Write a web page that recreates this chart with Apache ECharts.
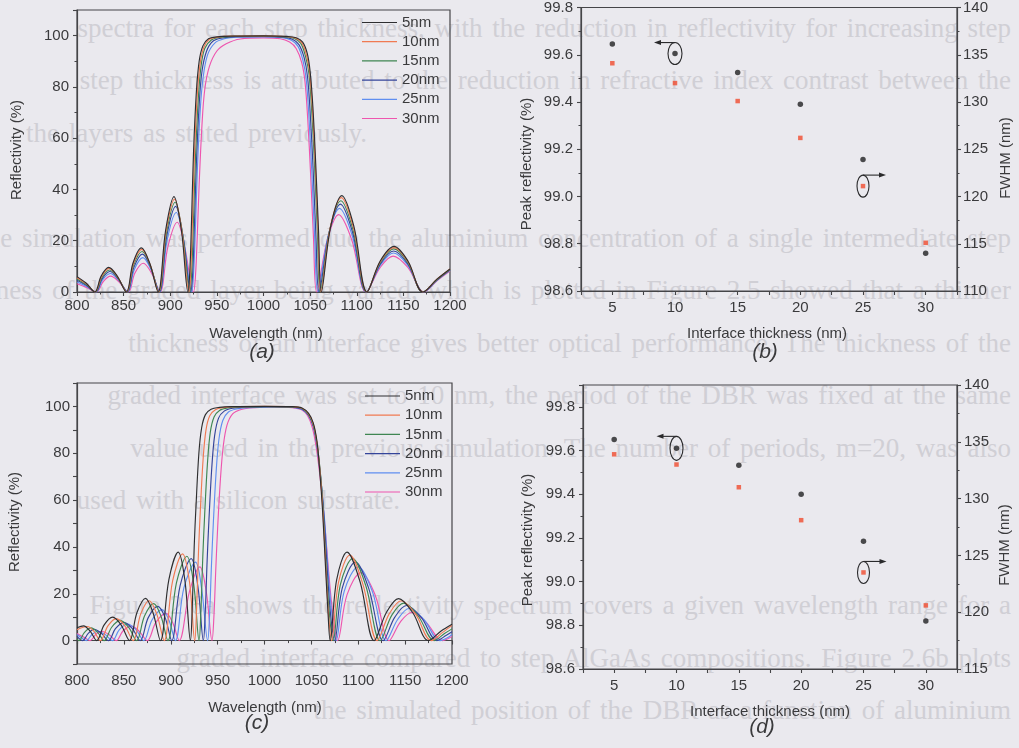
<!DOCTYPE html>
<html>
<head>
<meta charset="utf-8">
<script src="https://cdn.jsdelivr.net/npm/echarts@6/dist/echarts.min.js"></script>
<style>
  html, body { margin: 0; padding: 0; background: #eae9ee; }
  #page { position: absolute; left: 0; top: 0; width: 1019px; height: 748px; overflow: hidden; }
  .ln { position: absolute; font-family: "Liberation Serif", "Times New Roman", serif; font-size: 27px;
        line-height: 30px; color: #d0cfd5; white-space: nowrap; word-spacing: 3px; }
  .full { right: 8px; text-align: right; }
  #chart { position: absolute; left: 0; top: 0; width: 1019px; height: 748px; }
</style>
</head>
<body>
<div id="page"></div>
<div id="chart"></div>
<script>
// ---- thesis body text behind the figure ----
const pageLines = [
  { y: 28,  t: "spectra for each step thickness, with the reduction in reflectivity for increasing step" },
  { y: 80,  t: "step thickness is attributed to the reduction in refractive index contrast between the" },
  { y: 133, t: "the layers as stated previously.", right: 367 },
  { y: 238, t: "Secondly, the simulation was performed due the aluminium concentration of a single intermediate step" },
  { y: 290, t: "thickness of the graded layer being varied, which is plotted in Figure 2.5 showed that a thinner" },
  { y: 343, t: "thickness of an interface gives better optical performance. The thickness of the" },
  { y: 395, t: "graded interface was set to 10 nm, the period of the DBR was fixed at the same" },
  { y: 448, t: "value used in the previous simulation. The number of periods, m=20, was also" },
  { y: 500, t: "used with a silicon substrate.", right: 400 },
  { y: 605, t: "Figure 2.6a shows the reflectivity spectrum covers a given wavelength range for a" },
  { y: 658, t: "graded interface compared to step AlGaAs compositions. Figure 2.6b plots" },
  { y: 710, t: "the simulated position of the DBR as a function of aluminium" }
];
const page = document.getElementById('page');
pageLines.forEach(l => {
  const d = document.createElement('div');
  d.className = 'ln' + (l.right ? '' : ' full');
  d.style.top = (l.y - 15) + 'px';
  if (l.right) { d.style.right = (1019 - l.right) + 'px'; d.style.textAlign = 'right'; }
  d.textContent = l.t;
  page.appendChild(d);
});

// ---- data ----
const legendNames = ['5nm', '10nm', '15nm', '20nm', '25nm', '30nm'];
const lineColors = ['#2e2e30', '#f07a52', '#3f8652', '#34449a', '#5f8ef0', '#ee55ae'];

// (a) reflectivity spectra, [wavelength nm, R %]
const specA5 = [[800,6.0],[810,3.4],[819,0],[826,6.3],[834,9.6],[843,6.3],[853,0],[860,11.2],[869,17.2],[878,11.2],[887,0],[895,24],[904,37.2],[912,24],[919,0],[921,8],[923,30],[925,55],[928,78],[931,90],[935,96],[941,98.8],[950,99.5],[965,99.8],[1000,99.9],[1025,99.7],[1035,99.2],[1042,97.5],[1047,93],[1050,86],[1053,72],[1056,50],[1059,24],[1062,0],[1072,25.5],[1084,37.6],[1097,25.5],[1111,0],[1125,12],[1140,17.8],[1155,12],[1171,0],[1186,5],[1200,9]];
const specA10 = [[800,5.6],[810,3.2],[819.3,0],[826.3,6],[834.4,9.2],[843.3,6],[853.3,0],[860.3,10.8],[869.4,16.6],[878.3,10.8],[887.4,0],[895.4,23.5],[904.6,36.2],[912.6,23.4],[920,0],[922,8],[924,30],[926,54],[929,77],[932,89],[936,95.5],[942,98.6],[951,99.4],[966,99.8],[1000,99.9],[1024,99.6],[1034,99.1],[1041,97.3],[1046,92.5],[1049.5,85.5],[1052.5,71],[1055.5,50],[1058.5,24],[1061.5,0],[1071.5,25],[1083.5,36.8],[1096.5,25],[1110.8,0],[1125,11.7],[1140,17.3],[1155,11.7],[1171,0],[1186,5],[1200,9]];
const specA15 = [[800,5.1],[810,2.9],[819.6,0],[826.6,5.6],[834.8,8.6],[843.6,5.6],[853.6,0],[860.6,10.3],[869.8,15.8],[878.6,10.3],[887.8,0],[895.8,22.7],[905.2,35],[913.2,22.6],[921,0],[923,8],[925,29],[927,52],[930,75],[933,88],[937,95],[944,98.3],[953,99.3],[968,99.7],[1000,99.8],[1023,99.5],[1033,98.9],[1040,97],[1045,92],[1048.8,85],[1051.8,70],[1054.8,49],[1057.8,23],[1060.8,0],[1071,24.2],[1083,35.6],[1096,24.2],[1110.6,0],[1125,11.3],[1139.8,16.8],[1155,11.3],[1171,0],[1186,4.8],[1200,8.8]];
const specA20 = [[800,4.6],[810,2.6],[820,0],[827,5.2],[835.2,8],[844,5.2],[854,0],[861,9.6],[870.2,14.8],[879,9.6],[888.2,0],[896.2,21.7],[905.8,33.4],[913.8,21.5],[922,0],[924,7],[926,27],[928,50],[931,73],[934,86],[939,94],[946,97.9],[956,99.1],[970,99.6],[1000,99.7],[1021,99.4],[1031,98.6],[1038,96.5],[1043.5,91.5],[1047.2,84],[1050.2,69],[1053.2,48],[1056.2,22],[1059.5,0],[1070.5,23.3],[1082.5,34.3],[1095.5,23.3],[1110.4,0],[1125,10.8],[1139.6,16],[1155,10.8],[1171.3,0],[1186,4.7],[1200,8.7]];
const specA25 = [[800,3.9],[810,2.2],[820.4,0],[827.4,4.7],[835.6,7.2],[844.4,4.7],[854.4,0],[861.4,8.7],[870.6,13.4],[879.4,8.7],[888.6,0],[896.6,20.1],[906.4,31],[914.4,20],[923,0],[925,7],[927,25],[929,47],[932,70],[935,83],[940,92.5],[948,97.2],[958,98.8],[972,99.4],[1000,99.5],[1020,99.2],[1030,98.2],[1037,95.8],[1042.2,90.5],[1045.8,83],[1048.8,68],[1051.8,47],[1054.8,22],[1058.3,0],[1069.5,22.2],[1081.5,32.6],[1095,22.2],[1110.2,0],[1125,10.3],[1139.4,15.2],[1155,10.3],[1171.6,0],[1186,4.6],[1200,8.5]];
const specA30 = [[800,3.2],[810,1.8],[821,0],[828,4],[836,6.2],[845,4],[855,0],[862,7.3],[871,11.2],[880,7.3],[889,0],[897.5,17.7],[907.5,27.2],[915.5,17.5],[925,0],[927,6],[929,22],[931,42],[934,65],[937,79],[942,88],[950,94],[960,96.8],[975,98.7],[1000,99.1],[1018,98.8],[1028,97.5],[1035,95],[1041,89.5],[1044.5,82],[1047.5,67],[1050.5,46],[1053.5,22],[1057,0],[1068.5,20.5],[1080.5,30.2],[1094.5,20.5],[1110,0],[1125,9.5],[1139,14],[1155,9.5],[1172,0],[1186,4.4],[1200,8.2]];

// (c) reflectivity spectra, [wavelength nm, R %]
const specC5 = [[800,5.5],[807,6.3],[814,4.0],[821,0],[829,6.7],[838,10],[847,6.7],[856,0],[864,12],[873,18],[881,12],[889,0],[898,26],[908,37.8],[915,26],[921,0],[923,15],[925,40],[927,58],[930,80],[933,91],[937,96.5],[943,98.8],[952,99.6],[965,99.9],[1000,100],[1030,99.9],[1040,99.3],[1047,97],[1052,93],[1056,85],[1059,72],[1062,55],[1065,32],[1068,10],[1070,0],[1077,26],[1088,37.8],[1102,25],[1117,0],[1130,12],[1143,17.9],[1158,12],[1175,0],[1188,4],[1200,7]];
const specC10 = [[800,4.6],[811,6.0],[818,4.0],[825,0],[833,6.3],[842,9.4],[851,6.3],[860,0],[868,11.4],[877,17],[885,11.4],[893,0],[902,25.5],[912.6,37],[920,25],[925.6,0],[927.6,14],[929.6,38],[931.6,56],[934.6,78],[937.6,90],[941.6,96],[947.6,98.6],[956,99.5],[970,99.9],[1000,100],[1030,99.9],[1040,99.2],[1047,96.8],[1052,92.5],[1056,84.5],[1059.5,71],[1062.5,54],[1065.5,31],[1068.5,10],[1071.6,0],[1079,25],[1091,36.5],[1105,24],[1120.2,0],[1133,11.4],[1145.8,17],[1161,11.4],[1178,0],[1190,3.5],[1200,6.5]];
const specC15 = [[800,0.8],[802,0],[808,3.5],[815,5.4],[822,3.5],[829,0],[837,5.7],[846,8.6],[855,5.7],[863.6,0],[872,10.5],[881.8,15.8],[889.5,10.5],[897,0],[906,24.5],[917.2,36],[924.5,24],[930.2,0],[932.2,13],[934.2,36],[936.2,54],[939.2,76],[942.2,89],[946.2,95.5],[952,98.3],[961,99.4],[975,99.8],[1000,99.9],[1030,99.8],[1040,99.1],[1047,96.5],[1052,92],[1056,84],[1060,70],[1063,53],[1066,30],[1069.5,10],[1073.2,0],[1081,24],[1094,35],[1108,23.5],[1123.4,0],[1136,11],[1148.6,16],[1164,10.5],[1181,0],[1192,3],[1200,5]];
const specC20 = [[800,1.8],[806,0],[812,3.1],[818.4,4.8],[826,3.1],[833.6,0],[841,5.1],[850,7.8],[859,5.1],[867.4,0],[876,9.8],[886.2,14.6],[894,9.8],[901,0],[910,23.5],[921.8,35],[929,23],[934.8,0],[936.8,12],[938.8,34],[940.8,52],[943.8,74],[946.8,87.5],[951,95],[957,98],[966,99.2],[980,99.7],[1005,99.9],[1030,99.7],[1040,98.9],[1047,96.3],[1052,91.7],[1056,83.5],[1060,69.5],[1063.5,52.5],[1067,30],[1070.5,11],[1074.8,0],[1083,22.5],[1097,33.5],[1111,22.5],[1126.6,0],[1139,10],[1151.4,15],[1167,10],[1184,0],[1194,2.3],[1200,3.8]];
const specC25 = [[800,2.6],[805,1.2],[810,0],[816,2.6],[822.2,4.0],[830,2.6],[837.8,0],[845,4.6],[854,7.0],[863,4.6],[871.2,0],[880,8.8],[890.6,13.2],[898,8.8],[905,0],[914,22.5],[926.4,33.5],[933,22],[939.4,0],[941.4,11],[943.4,32],[945.4,50],[948.4,72],[951.4,86],[955.5,94],[961.5,97.6],[970,98.9],[985,99.5],[1010,99.8],[1030,99.6],[1040,98.7],[1047,96.1],[1052,91.3],[1056,83],[1060,69],[1064,52],[1068,29],[1072,11],[1076.4,0],[1085,21],[1100,31.5],[1115,21],[1129.8,0],[1142,9],[1154.2,13.7],[1170,9],[1187,0],[1196,1.4],[1200,2.8]];
const specC30 = [[800,3.0],[807,1.5],[814,0],[820,2.6],[826,4.0],[834,2.6],[842,0],[849,4.1],[858,6.2],[866,4.1],[875,0],[884,7.7],[895,11.6],[902,7.7],[909,0],[920,21],[931,31.5],[938,20.5],[944,0],[946,10],[948,30],[950,48],[953,69],[956,83],[960,92],[966,96.8],[975,98.7],[990,99.5],[1010,99.8],[1030,99.5],[1040,98.5],[1046,96],[1051,91],[1055,83],[1059.5,69],[1064,51],[1068.5,29],[1073,11],[1078,0],[1088,19.5],[1103,29],[1118,19.5],[1133,0],[1145,8],[1157,12],[1172,8],[1190,0],[1200,1.8]];

const spectraA = [specA5, specA10, specA15, specA20, specA25, specA30];
const spectraC = [specC5, specC10, specC15, specC20, specC25, specC30];

// (b) and (d): peak reflectivity (%) and FWHM (nm) vs interface thickness (nm)
const thickness = [5, 10, 15, 20, 25, 30];
const peakB = [99.646, 99.605, 99.525, 99.39, 99.157, 98.76];
const fwhmB = [134.1, 132.0, 130.1, 126.2, 121.1, 115.1];
const peakD = [99.65, 99.61, 99.533, 99.40, 99.185, 98.82];
const fwhmD = [133.9, 133.0, 131.0, 128.1, 123.5, 120.6];

// ---- chart ----
const FONT = '"Liberation Sans", Arial, sans-serif';
const AX = '#454548';
const lbl = (extra) => Object.assign({ fontFamily: FONT, fontSize: 15, color: '#3a3a3c' }, extra || {});
const axLine = { show: true, lineStyle: { color: AX, width: 1.2 } };
const tick = { show: true, inside: false, length: 4, lineStyle: { color: AX, width: 1.1 } };
const minor = { show: true, splitNumber: 2, length: 2.5, lineStyle: { color: AX, width: 1 } };
const pair = (xs, ys) => xs.map((x, i) => [x, ys[i]]);
const plain = v => String(v);

function valueAxis(o) {
  return Object.assign({
    type: 'value', axisLine: axLine, axisTick: tick, splitLine: { show: false }
  }, o);
}

const xAxes = [
  valueAxis({ gridIndex: 0, min: 800, max: 1200, interval: 50, minorTick: minor, axisLabel: lbl({ margin: 6, formatter: plain }) }),
  valueAxis({ gridIndex: 1, min: 800, max: 1200, interval: 50, minorTick: minor, axisLabel: lbl({ margin: 9, formatter: plain }) }),
  valueAxis({ gridIndex: 2, min: 2.5, max: 32.5, interval: 2.5,
    axisLabel: lbl({ margin: 9, formatter: v => (Math.abs(v % 5) < 1e-6 ? String(v) : '') }) }),
  valueAxis({ gridIndex: 3, min: 2.5, max: 32.5, interval: 2.5,
    axisLabel: lbl({ margin: 9, formatter: v => (Math.abs(v % 5) < 1e-6 ? String(v) : '') }) })
];
const yAxes = [
  valueAxis({ gridIndex: 0, min: 0, max: 110, interval: 20, minorTick: minor,
    axisLabel: lbl({ margin: 8, showMaxLabel: false, formatter: plain }) }),
  valueAxis({ gridIndex: 1, min: -10, max: 110, interval: 10,
    axisLabel: lbl({ margin: 7, formatter: v => (Math.abs(v % 20) < 1e-6 ? String(v) : '') }) }),
  valueAxis({ gridIndex: 2, position: 'left', min: 98.6, max: 99.8, interval: 0.2, minorTick: minor,
    axisLabel: lbl({ margin: 8, formatter: v => v.toFixed(1) }) }),
  valueAxis({ gridIndex: 2, position: 'right', min: 110, max: 140, interval: 5, minorTick: minor,
    axisLabel: lbl({ margin: 6, formatter: plain }) }),
  valueAxis({ gridIndex: 3, position: 'left', min: 98.6, max: 99.9, interval: 0.2, minorTick: minor,
    axisLabel: lbl({ margin: 8, showMaxLabel: false, formatter: v => v.toFixed(1) }) }),
  valueAxis({ gridIndex: 3, position: 'right', min: 115, max: 140, interval: 5, minorTick: minor,
    axisLabel: lbl({ margin: 7, formatter: plain }) })
];

const series = [];
spectraA.forEach((d, i) => series.push({
  name: legendNames[i], type: 'line', xAxisIndex: 0, yAxisIndex: 0, data: d,
  symbol: 'none', smooth: 0.35, clip: true, z: 10 - i,
  lineStyle: { width: 1.15, color: lineColors[i] }, itemStyle: { color: lineColors[i] }
}));
spectraC.forEach((d, i) => series.push({
  name: legendNames[i], type: 'line', xAxisIndex: 1, yAxisIndex: 1, data: d,
  symbol: 'none', smooth: 0.35, clip: true, z: 10 - i,
  lineStyle: { width: 1.15, color: lineColors[i] }, itemStyle: { color: lineColors[i] }
}));
series.push(
  { name: 'Peak reflectivity', type: 'scatter', xAxisIndex: 2, yAxisIndex: 2, data: pair(thickness, peakB),
    symbol: 'circle', symbolSize: 5.5, itemStyle: { color: '#202022' } },
  { name: 'FWHM', type: 'scatter', xAxisIndex: 2, yAxisIndex: 3, data: pair(thickness, fwhmB),
    symbol: 'rect', symbolSize: 4.5, itemStyle: { color: '#f04b2e' } },
  { name: 'Peak reflectivity ', type: 'scatter', xAxisIndex: 3, yAxisIndex: 4, data: pair(thickness, peakD),
    symbol: 'circle', symbolSize: 5.5, itemStyle: { color: '#202022' } },
  { name: 'FWHM ', type: 'scatter', xAxisIndex: 3, yAxisIndex: 5, data: pair(thickness, fwhmD),
    symbol: 'rect', symbolSize: 4.5, itemStyle: { color: '#f04b2e' } }
);

// legend keys are thin horizontal strokes in each series colour
const legendBase = {
  orient: 'vertical', data: legendNames, icon: 'path://M0,0H35V1.2H0Z',
  itemWidth: 35, itemHeight: 1.3, itemGap: 4.2,
  textStyle: { fontFamily: FONT, fontSize: 15, color: '#3a3a3c', lineHeight: 15 }, padding: 0,
  selectedMode: false
};

const txt = (x, y, text, size, opts) => Object.assign({
  type: 'text', x: x, y: y, silent: true,
  style: Object.assign({ text: text, fill: '#3a3a3c', font: size + 'px ' + FONT, align: 'center', verticalAlign: 'middle' },
    (opts && opts.style) || {})
}, opts && opts.rotation !== undefined ? { rotation: opts.rotation } : {});
const R90 = Math.PI / 2;
const italic = (x, y, s) => ({
  type: 'text', x: x, y: y, silent: true,
  style: { text: s, fill: '#3a3a3c', font: 'italic 21px ' + FONT, align: 'center', verticalAlign: 'middle' }
});

const grids = [
  { left: 77, top: 10, width: 373, height: 282 },
  { left: 77, top: 383, width: 375, height: 281 },
  { left: 581, top: 7, width: 376, height: 284 },
  { left: 583, top: 385, width: 374, height: 284 }
].map(g => Object.assign({ show: true, borderColor: AX, borderWidth: 1.2, backgroundColor: 'transparent' }, g));

const chart = echarts.init(document.getElementById('chart'), null, { renderer: 'canvas' });
chart.setOption({
  animation: false,
  backgroundColor: 'transparent',
  grid: grids,
  xAxis: xAxes,
  yAxis: yAxes,
  legend: [
    Object.assign({ left: 362, top: 15 }, legendBase),
    Object.assign({ left: 365, top: 388.5 }, legendBase)
  ],
  series: series
});

// Axis titles, panel captions and the ellipse/arrow call-outs that tie each
// scatter series to its axis.
function callout(xIdx, yIdx, pt, rx, ry, dir, len) {
  const p = chart.convertToPixel({ xAxisIndex: xIdx, yAxisIndex: yIdx }, pt);
  const cx = p[0], cy = p[1];
  const ty = cy - ry + 1;
  const x0 = cx + (dir < 0 ? -1 : 1);
  const x1 = cx + dir * len;
  const stroke = { stroke: '#2a2a2c', lineWidth: 1.1, fill: null };
  return [
    { type: 'ellipse', silent: true, shape: { cx: cx, cy: cy, rx: rx, ry: ry }, style: stroke },
    { type: 'polyline', silent: true,
      shape: { points: [[cx, cy - ry], [x0, ty - 1], [x1 - dir * 5, ty - 1]] }, style: stroke },
    { type: 'polygon', silent: true,
      shape: { points: [[x1, ty - 1], [x1 - dir * 7, ty - 3.5], [x1 - dir * 7, ty + 1.5]] },
      style: { fill: '#2a2a2c' } }
  ];
}

const graphics = [
  txt(17, 150, 'Reflectivity (%)', 15, { rotation: R90 }),
  txt(266, 334, 'Wavelength (nm)', 15),
  italic(262, 352, '(a)'),
  txt(527, 164, 'Peak reflectivity (%)', 15, { rotation: R90 }),
  txt(1006, 158, 'FWHM (nm)', 15, { rotation: R90 }),
  txt(767, 334, 'Interface thickness (nm)', 15),
  italic(765, 352, '(b)'),
  txt(15, 522, 'Reflectivity (%)', 15, { rotation: R90 }),
  txt(265, 708, 'Wavelength (nm)', 15),
  italic(257, 723, '(c)'),
  txt(528, 540, 'Peak reflectivity (%)', 15, { rotation: R90 }),
  txt(1005, 545, 'FWHM (nm)', 15, { rotation: R90 }),
  txt(770, 712, 'Interface thickness (nm)', 15),
  italic(762, 727, '(d)')
].concat(
  callout(2, 2, [thickness[1], peakB[1]], 7, 11, -1, 21),
  callout(2, 3, [thickness[4], fwhmB[4]], 6, 11, 1, 23),
  callout(3, 4, [thickness[1], peakD[1]], 6.5, 12, -1, 20),
  callout(3, 5, [thickness[4], fwhmD[4]], 6, 11, 1, 23)
);
chart.setOption({ graphic: graphics });
</script>
</body>
</html>
